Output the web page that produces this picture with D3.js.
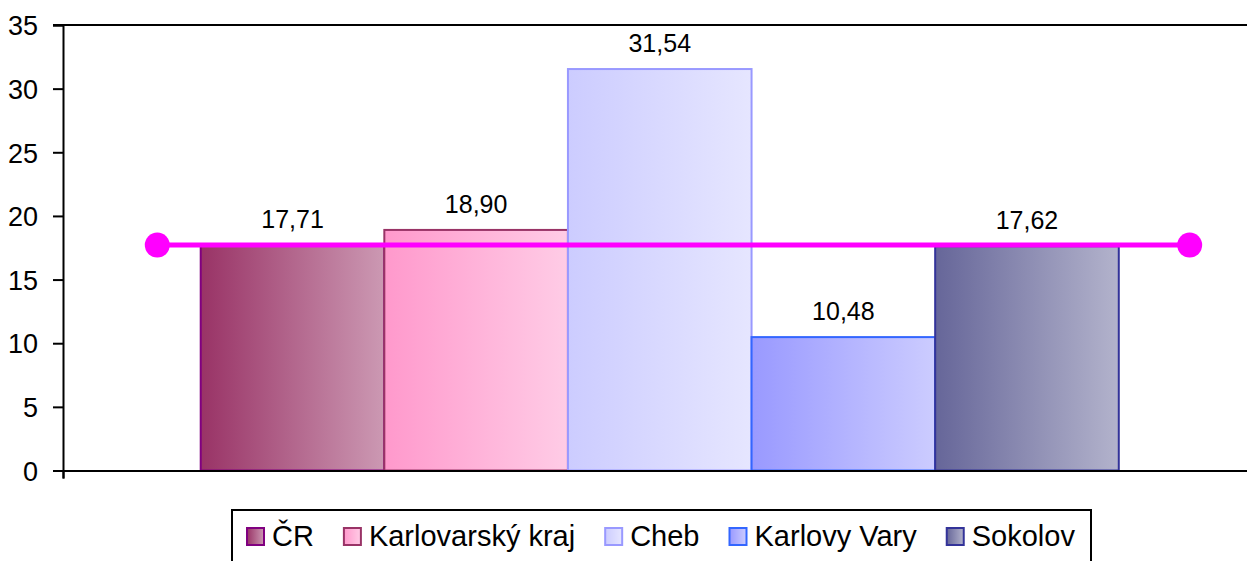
<!DOCTYPE html>
<html>
<head>
<meta charset="utf-8">
<script src="https://cdn.jsdelivr.net/npm/d3@7"></script>
<style>
  body { margin: 0; background: #fff; }
  text { font-family: "Liberation Sans", Arial, sans-serif; fill: #000; }
</style>
</head>
<body>
<div id="chart"></div>
<script>
// Data
const categories = ["ČR", "Karlovarský kraj", "Cheb", "Karlovy Vary", "Sokolov"];
const values = [17.71, 18.90, 31.54, 10.48, 17.62];
const labels = ["17,71", "18,90", "31,54", "10,48", "17,62"];
const avgLine = [17.71, 17.71];
const yTicks = [0, 5, 10, 15, 20, 25, 30, 35];

// Colours: gradient dark -> light, border
const fillFrom = ["#993366", "#ff99cc", "#ccccff", "#9999ff", "#666699"];
const fillTo   = ["#cc99b3", "#ffcce6", "#e6e6ff", "#ccccff", "#b3b3cc"];
const strokes  = ["#800080", "#993366", "#9999ff", "#3366ff", "#333399"];

// Dimensions
const W = 1247, H = 561;
const plot = {left: 63, top: 25, right: 1256.5, bottom: 470.5};

const svg = d3.select("#chart").append("svg")
    .attr("width", W)
    .attr("height", H);

const defs = svg.append("defs");
categories.forEach((c, i) => {
  const g = defs.append("linearGradient")
      .attr("id", "grad" + i)
      .attr("x1", "0%").attr("x2", "100%")
      .attr("y1", "0%").attr("y2", "0%");
  g.append("stop").attr("offset", "0%").attr("stop-color", fillFrom[i]);
  g.append("stop").attr("offset", "100%").attr("stop-color", fillTo[i]);
});

// Scales
const y = d3.scaleLinear()
    .domain([0, 35])
    .range([plot.bottom, plot.top]);

// one category holding all five series, gap width 30%
const groupW = (plot.right - plot.left) / 1.3;
const groupX0 = (plot.left + plot.right) / 2 - groupW / 2;
const x = d3.scaleBand()
    .domain(categories)
    .range([groupX0, groupX0 + groupW])
    .padding(0);

// Line series spans most of the plot (secondary axis)
const lx = d3.scaleLinear()
    .domain([0, 1])
    .range([plot.left + 0.079 * (plot.right - plot.left), plot.left + 0.944 * (plot.right - plot.left)]);

// Bars
svg.selectAll(".bar")
    .data(values)
  .enter().append("rect")
    .attr("class", "bar")
    .attr("x", (d, i) => x(categories[i]))
    .attr("y", d => y(d))
    .attr("width", x.bandwidth())
    .attr("height", d => y(0) - y(d))
    .style("fill", (d, i) => "url(#grad" + i + ")")
    .style("stroke", (d, i) => strokes[i])
    .style("stroke-width", 2);

// Data labels
svg.selectAll(".lbl")
    .data(values)
  .enter().append("text")
    .attr("class", "lbl")
    .attr("x", (d, i) => x(categories[i]) + x.bandwidth() / 2)
    .attr("y", d => y(d) - 17)
    .attr("text-anchor", "middle")
    .style("font-size", "25px")
    .text((d, i) => labels[i]);

// Average line
svg.append("path")
    .datum(avgLine)
    .attr("d", d3.line().x((d, i) => lx(i)).y(d => y(d)))
    .style("fill", "none")
    .style("stroke", "#ff00ff")
    .style("stroke-width", 5);

svg.selectAll(".marker")
    .data(avgLine)
  .enter().append("circle")
    .attr("cx", (d, i) => lx(i))
    .attr("cy", d => y(d))
    .attr("r", 12.5)
    .style("fill", "#ff00ff");

// Top border of plot area
svg.append("line")
    .attr("x1", plot.left - 10).attr("x2", plot.right)
    .attr("y1", plot.top).attr("y2", plot.top)
    .style("stroke", "#000").style("stroke-width", 2);

// Y axis
const yAxis = svg.append("g")
    .attr("transform", "translate(" + plot.left + ",0)")
    .call(d3.axisLeft(y).tickValues(yTicks).tickSize(10).tickPadding(15).tickFormat(d3.format("d")));
yAxis.select(".domain").style("stroke", "#000").style("stroke-width", 2);
yAxis.selectAll(".tick line").style("stroke", "#000").style("stroke-width", 2);
yAxis.selectAll(".tick text")
    .style("font-size", "27px")
    .style("font-family", "'Liberation Sans', Arial, sans-serif")
    .attr("dy", "0.36em");

// X axis (single category, tick at plot edges)
const xEdge = d3.scaleLinear().domain([0, 1]).range([plot.left, plot.right]);
const xAxis = svg.append("g")
    .attr("transform", "translate(0," + plot.bottom + ")")
    .call(d3.axisBottom(xEdge).tickValues([0, 1]).tickSize(8).tickFormat(""));
xAxis.select(".domain").style("stroke", "#000").style("stroke-width", 2);
xAxis.selectAll(".tick line").style("stroke", "#000").style("stroke-width", 2);

// Legend
const legend = svg.append("g");
legend.append("rect")
    .attr("x", 232).attr("y", 510)
    .attr("width", 859).attr("height", 80)
    .style("fill", "#fff")
    .style("stroke", "#000")
    .style("stroke-width", 2);

let lxPos = 246;
categories.forEach((c, i) => {
  const item = legend.append("g").attr("transform", "translate(" + lxPos + ",527)");
  item.append("rect")
      .attr("x", 1).attr("y", 1)
      .attr("width", 17).attr("height", 17)
      .style("fill", "url(#grad" + i + ")")
      .style("stroke", strokes[i])
      .style("stroke-width", 2);
  const t = item.append("text")
      .attr("x", 26)
      .attr("y", 19)
      .style("font-size", "29px")
      .text(c);
  lxPos += 26 + t.node().getComputedTextLength() + 29;
});
</script>
</body>
</html>
